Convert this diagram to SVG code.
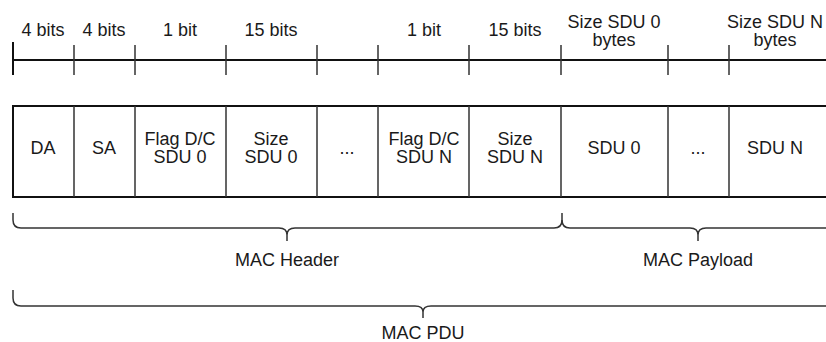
<svg xmlns="http://www.w3.org/2000/svg" width="826" height="342" viewBox="0 0 826 342">
<style>
text{font-family:"Liberation Sans",Arial,sans-serif;font-size:18px;fill:#1a1a1a;text-anchor:middle}
.ln{stroke:#111;stroke-width:2;fill:none}
.dv{stroke:#333;stroke-width:1.5;fill:none}
.br{stroke:#333;stroke-width:1.5;fill:none}
</style>
<rect width="826" height="342" fill="#fff"/>
<g id="scale">
<line class="ln" x1="13" y1="60" x2="830" y2="60"/>
<line class="ln" x1="13" y1="42" x2="13" y2="75"/>
<path class="dv" d="M74,45V75M135,45V75M226,45V75M317,45V75M378,45V75M469,45V75M561,45V75M668,45V75M729,45V75"/>
<text x="43" y="36">4 bits</text>
<text x="104" y="36">4 bits</text>
<text x="180" y="36">1 bit</text>
<text x="271" y="36">15 bits</text>
<text x="424" y="36">1 bit</text>
<text x="515" y="36">15 bits</text>
<text x="614" y="28">Size SDU 0<tspan x="614" dy="18">bytes</tspan></text>
<text x="775" y="28">Size SDU N<tspan x="775" dy="18">bytes</tspan></text>
</g>
<g id="frame">
<rect class="ln" x="13" y="106" width="830" height="91"/>
<path class="dv" d="M74,106V197M135,106V197M226,106V197M317,106V197M378,106V197M469,106V197M561,106V197M668,106V197M729,106V197"/>
</g>
<g id="da"><text x="43" y="154">DA</text></g>
<g id="sa"><text x="104" y="154">SA</text></g>
<g id="flag0"><text x="180" y="145">Flag D/C<tspan x="180" dy="18">SDU 0</tspan></text></g>
<g id="size0"><text x="271" y="145">Size<tspan x="271" dy="18">SDU 0</tspan></text></g>
<g id="dots1"><text x="347" y="154">...</text></g>
<g id="flagN"><text x="424" y="145">Flag D/C<tspan x="424" dy="18">SDU N</tspan></text></g>
<g id="sizeN"><text x="515" y="145">Size<tspan x="515" dy="18">SDU N</tspan></text></g>
<g id="sdu0"><text x="614" y="154">SDU 0</text></g>
<g id="dots2"><text x="698" y="154">...</text></g>
<g id="sduN"><text x="775" y="154">SDU N</text></g>
<g id="braces">
<path class="br" d="M13,213V220Q13,228 21,228H279Q287,228 287,235V241M287,235Q287,228 295,228H554Q562,228 562,220V213"/>
<path class="br" d="M562,220Q562,228 570,228H690Q698,228 698,235V241M698,235Q698,228 706,228H830"/>
<path class="br" d="M13,290V298Q13,306 21,306H415Q423,306 423,312V318M423,312Q423,306 431,306H830"/>
</g>
<g id="labels">
<text x="287" y="266">MAC Header</text>
<text x="698" y="266">MAC Payload</text>
<text x="423" y="339">MAC PDU</text>
</g>
</svg>
